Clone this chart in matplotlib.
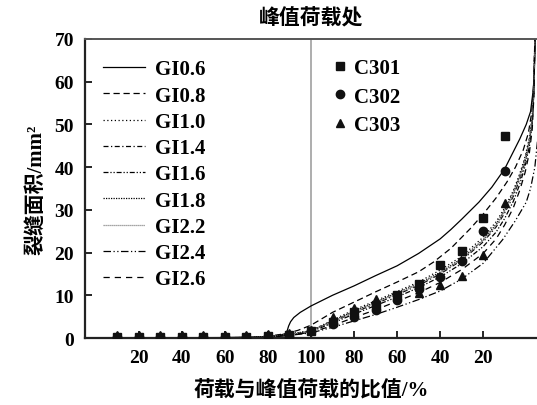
import matplotlib
matplotlib.use('Agg')
import matplotlib.pyplot as plt
from matplotlib.lines import Line2D

# 横坐标展开: 峰前位置 = 比值, 峰后位置 = 200 - 比值
tick_pos = [20, 40, 60, 80, 100, 120, 140, 160, 180]
tick_labels = ['20', '40', '60', '80', '100', '80', '60', '40', '20']

# 试验点
pre_ratio = [10, 20, 30, 40, 50, 60, 70, 80, 90, 100]
post_ratio = [90, 80, 70, 60, 50, 40, 30, 20, 10]
c301_pre = [0.3, 0.3, 0.3, 0.3, 0.3, 0.3, 0.3, 0.4, 0.8, 1.7]
c301_post = [3.8, 6.0, 7.8, 10.0, 12.6, 17.0, 20.4, 28.1, 47.3]
c302_pre = [0.3, 0.3, 0.3, 0.3, 0.3, 0.3, 0.3, 0.4, 0.8, 1.6]
c302_post = [3.2, 5.0, 6.5, 9.0, 11.5, 14.3, 18.0, 25.0, 39.1]
c303_pre = [0.8, 0.8, 0.8, 0.8, 0.8, 0.8, 0.8, 0.9, 1.1, 1.8]
c303_post = [4.9, 7.0, 9.2, 9.6, 10.6, 12.5, 14.5, 19.4, 31.6]

# 模拟曲线 (展开坐标)
gi06_x = [-5, 60, 78, 85, 88, 89, 89.6, 90.5, 92, 95, 100, 110, 120, 130, 140, 150,
          160, 165, 170, 178, 184, 190, 197, 200, 202, 203.3, 203.8, 204.2]
gi06_y = [0, 0.1, 0.3, 0.6, 1.0, 1.8, 2.8, 3.8, 4.8, 6.0, 7.5, 10.0, 12.2, 14.6, 16.9, 19.8,
          23.2, 25.4, 27.8, 31.8, 35.3, 39.6, 46.6, 50.0, 53.0, 58.3, 63, 70]
gi08_x = [-5, 70, 80, 88, 94, 100, 105, 110, 120, 130, 140, 150, 157, 165, 174, 180,
          186, 191, 195, 198.6, 201, 202.6, 203.5, 204]
gi08_y = [0, 0.1, 0.4, 1.0, 1.8, 3.0, 4.5, 6.0, 8.4, 10.8, 13.1, 15.5, 17.8, 21.0, 25.6, 29.0,
          32.8, 36.5, 40.0, 44.0, 48.0, 53, 60, 70]
gi_x = [-5, 70, 80, 88, 95, 100, 110, 120, 130, 140, 150, 160, 170, 180, 186, 190,
        194, 197, 199.5, 201.5, 202.8, 203.6, 204]
gi10_y = [0, 0.1, 0.3, 0.8, 1.3, 1.7, 4.2, 6.6, 8.7, 10.9, 13.1, 15.9, 19.1, 23.6, 27.2, 30.5,
          34.5, 38.5, 42.5, 47, 52, 59, 70]
gi14_y = [0, 0.1, 0.3, 0.7, 1.2, 1.6, 3.8, 6.0, 8.0, 10.2, 12.3, 15.0, 18.2, 22.5, 26, 29.3,
          33.2, 37.2, 41.3, 46, 51, 58.5, 70]
gi16_y = [0, 0.1, 0.2, 0.6, 1.1, 1.5, 3.5, 5.6, 7.6, 9.6, 11.8, 14.3, 17.4, 21.4, 24.8, 28,
          32, 36, 40.3, 45, 50.5, 58, 70]
gi18_y = [0, 0.1, 0.3, 0.8, 1.3, 1.7, 4.0, 6.3, 8.4, 10.6, 12.7, 15.4, 18.6, 23.0, 26.6, 30,
          34, 38, 42, 46.5, 51.5, 59, 70]
gi22_y = [0, 0.1, 0.3, 0.7, 1.2, 1.6, 3.9, 6.1, 8.2, 10.4, 12.5, 15.2, 18.4, 22.8, 26.3, 29.7,
          33.6, 37.6, 41.6, 46.2, 51.2, 58.8, 70]
gi24_x = [-5, 70, 80, 88, 95, 100, 110, 120, 130, 140, 150, 160, 170, 180, 189, 195,
          200, 202, 204, 206]
gi24_y = [0, 0.05, 0.2, 0.5, 0.9, 1.2, 2.5, 4.0, 5.5, 7.2, 9.0, 11.0, 13.8, 17.5, 23.0, 27.5,
          31.8, 35.0, 40.0, 50.0]
gi26_y = [0, 0.05, 0.2, 0.6, 1.0, 1.3, 2.9, 4.8, 6.6, 8.6, 10.6, 13.0, 16.0, 19.8, 23.2, 26.5,
          30.5, 34.6, 38.8, 43.5, 49, 57, 70]

curves = [
    ('GI0.6', gi06_x, gi06_y, '-', 'black'),
    ('GI0.8', gi08_x, gi08_y, (0, (5, 3)), 'black'),
    ('GI1.0', gi_x, gi10_y, (0, (1, 2)), 'black'),
    ('GI1.4', gi_x, gi14_y, (0, (4, 2, 1, 2)), 'black'),
    ('GI1.6', gi_x, gi16_y, (0, (4, 1.5, 1, 1.5, 1, 1.5)), 'black'),
    ('GI1.8', gi_x, gi18_y, (0, (1, 1)), 'black'),
    ('GI2.2', gi_x, gi22_y, (0, (1, 0.6)), '#888888'),
    ('GI2.4', gi24_x, gi24_y, (0, (6, 2, 1, 2, 1, 2)), 'black'),
    ('GI2.6', gi_x, gi26_y, (0, (5, 4)), 'black'),
]

serif = ['Liberation Serif', 'Noto Sans CJK SC']
cjk = ['Noto Sans CJK SC', 'DejaVu Sans']

fig = plt.figure(figsize=(5.37, 4.06), dpi=100)
ax = fig.add_axes([85 / 537, 1 - 339 / 406, 452 / 537, 299 / 406])

line_handles = []
for name, xs, ys, ls, col in curves:
    h, = ax.plot(xs, ys, linestyle=ls, color=col, lw=0.9, label=name)
    line_handles.append(h)

ax.axvline(100, color='#a0a0a0', lw=1.2, zorder=1)

post_pos = [200 - r for r in post_ratio]
for pre, post, mk in [(c301_pre, c301_post, 's'), (c302_pre, c302_post, 'o'),
                      (c303_pre, c303_post, '^')]:
    ax.plot(pre_ratio, pre, linestyle='none', marker=mk, color='#111111', ms=6, zorder=5)
    ax.plot(post_pos, post, linestyle='none', marker=mk, color='#111111', ms=6, zorder=5)

ax.set_xlim(-5, 205)
ax.set_ylim(0, 70)
ax.set_xticks(tick_pos)
ax.set_xticklabels(tick_labels)
ax.set_yticks(range(0, 71, 10))
ax.tick_params(direction='in', length=5, width=1.2, labelsize=14, pad=8)
for lab in ax.get_xticklabels() + ax.get_yticklabels():
    lab.set_fontfamily('Liberation Serif')
    lab.set_fontweight('bold')

ax.spines['right'].set_visible(False)
for s in ['left', 'bottom']:
    ax.spines[s].set_linewidth(1.6)
    ax.spines[s].set_color('#222222')
ax.spines['top'].set_linewidth(1.4)
ax.spines['top'].set_color('#555555')

ax.set_title('峰值荷载处', family=cjk, fontsize=15, fontweight='bold', pad=11)
ax.set_xlabel('荷载与峰值荷载的比值/%', family=serif, fontsize=15, fontweight='bold', labelpad=10)
ax.set_ylabel('裂缝面积/mm²', family=serif, fontsize=15, fontweight='bold', labelpad=6)

leg1 = ax.legend(handles=line_handles, loc='upper left', bbox_to_anchor=(0.04, 0.932),
                 frameon=False, borderpad=0, borderaxespad=0, handlelength=2.0,
                 handletextpad=0.5, labelspacing=0.3,
                 prop={'family': 'Liberation Serif', 'weight': 'bold', 'size': 15})
ax.add_artist(leg1)

mk_handles = [Line2D([], [], linestyle='none', marker=m, color='#111111', ms=6, label=l)
              for m, l in [('s', 'C301'), ('o', 'C302'), ('^', 'C303')]]
ax.legend(handles=mk_handles, loc='upper left', bbox_to_anchor=(0.545, 0.935),
          frameon=False, borderpad=0, borderaxespad=0, handlelength=0.8,
          handletextpad=0.3, labelspacing=0.4, numpoints=1,
          prop={'family': 'Liberation Serif', 'weight': 'bold', 'size': 15})

fig.savefig('out.png', dpi=100)
